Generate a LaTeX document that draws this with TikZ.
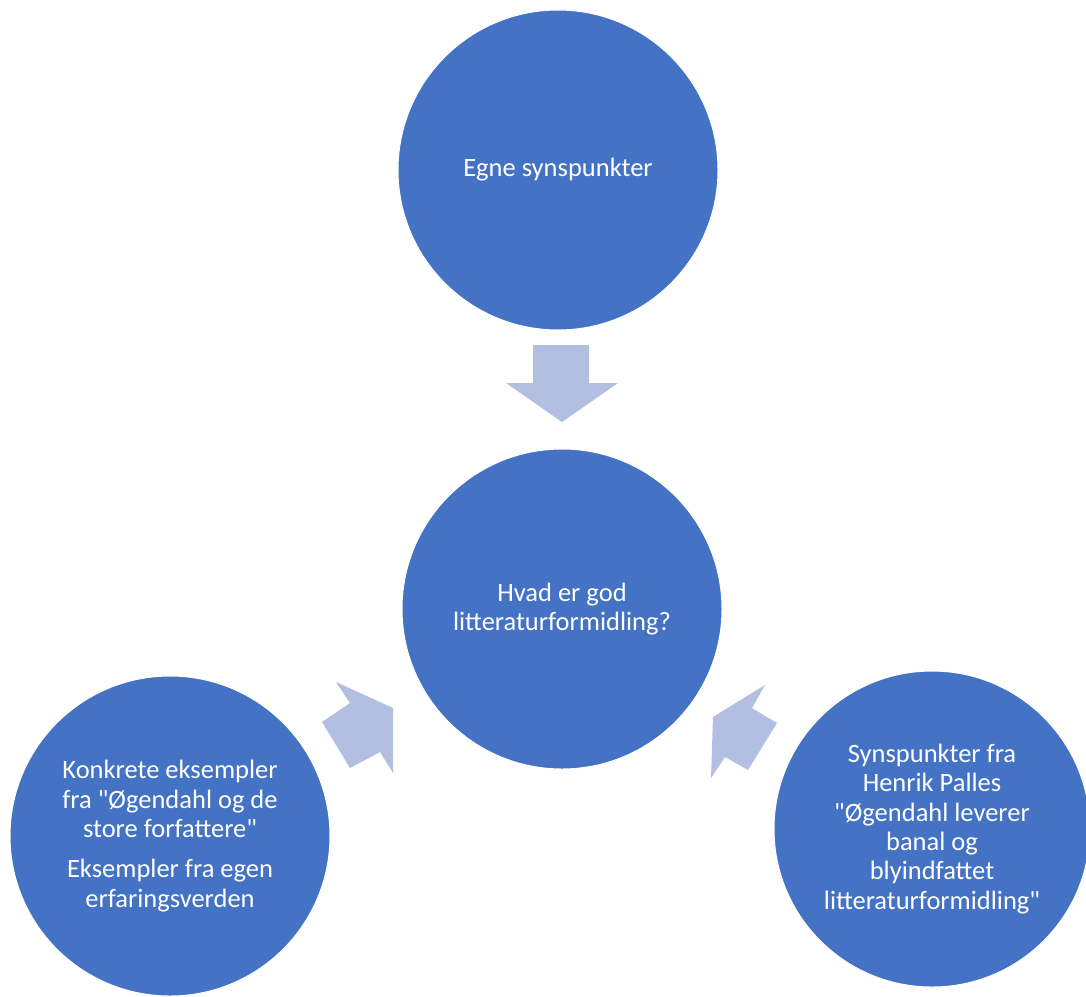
\documentclass[tikz,border=0pt]{standalone}
\usepackage{fontspec}
\setmainfont{Carlito}[Ligatures=TeXOff]
\definecolor{bubblecol}{RGB}{68,114,196}
\definecolor{arrowcol}{RGB}{178,191,225}
\begin{document}
\begin{tikzpicture}[x=1pt,y=-1pt,
  bubble/.style={circle, fill=bubblecol, draw=white, line width=1pt, minimum size=320pt, inner sep=0pt,
    text=white, align=center, font=\fontsize{26.5}{29.3}\selectfont},
  blockarrow/.style={fill=arrowcol, draw=none}]
\useasboundingbox[fill=white] (0,0) rectangle (1086,996);
% block arrows
\fill[blockarrow] (533,345) -- (589,345) -- (589,383) -- (618,383) -- (562,422) -- (506,383) -- (533,383) -- cycle;
\fill[blockarrow] (336,682) -- (393,708) -- (393,773) -- (380,752) -- (350,768) -- (322,722) -- (350,703) -- cycle;
\fill[blockarrow] (765,685) -- (752,708) -- (777,723) -- (748,770) -- (725,757) -- (711,778) -- (713,717) -- cycle;
% circles
\node[bubble] (top) at (558,170) {Egne synspunkter};
\node[bubble] (mid) at (562,609) {Hvad er god\\litteraturformidling?};
\node[bubble] (left) at (170,836) {Konkrete eksempler\\fra "Øgendahl og de\\store forfattere"\\[11pt]Eksempler fra egen\\erfaringsverden};
\node[bubble, minimum size=316pt] (right) at (932,829) {Synspunkter fra\\Henrik Palles\\"Øgendahl leverer\\banal og\\blyindfattet\\litteraturformidling"};
\end{tikzpicture}
\end{document}
